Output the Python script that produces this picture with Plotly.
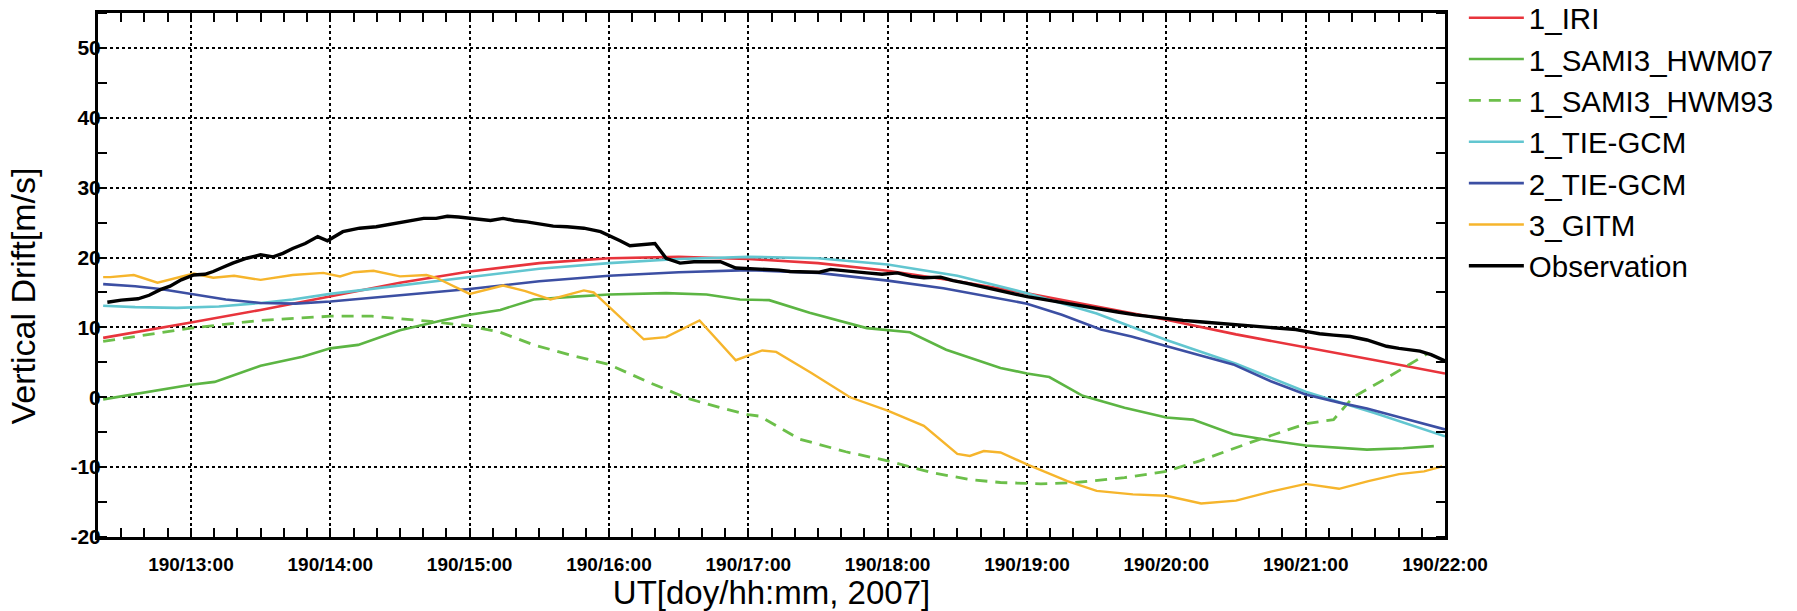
import plotly.graph_objects as go

# ---------------- data (hours UT, day 190, 2007) ----------------
tick_hours = [13, 14, 15, 16, 17, 18, 19, 20, 21, 22]
tick_labels = ["190/13:00", "190/14:00", "190/15:00", "190/16:00", "190/17:00",
               "190/18:00", "190/19:00", "190/20:00", "190/21:00", "190/22:00"]
y_ticks = [-20, -10, 0, 10, 20, 30, 40, 50]
y_labels = ["-20", "-10", "0", "10", "20", "30", "40", "50"]

iri_t = [12.37, 12.75, 13.0, 13.5, 14.0, 14.5, 15.0, 15.5, 16.0, 16.5, 17.0, 17.5,
         18.0, 18.5, 19.0, 19.5, 20.0, 20.5, 21.0, 21.5, 22.0]
iri_v = [8.5, 9.8, 10.7, 12.5, 14.5, 16.4, 18.0, 19.2, 19.9, 20.1, 19.8, 19.2,
         18.1, 16.6, 14.9, 13.0, 11.1, 9.0, 7.2, 5.3, 3.4]

hwm07_t = [12.37, 12.7, 13.0, 13.17, 13.5, 13.8, 14.0, 14.2, 14.5, 14.8, 15.0, 15.22,
           15.46, 15.75, 16.0, 16.41, 16.7, 16.94, 17.15, 17.44, 17.65, 17.85, 18.16,
           18.42, 18.81, 19.0, 19.16, 19.40, 19.7, 20.0, 20.19, 20.48, 20.75, 21.0,
           21.44, 21.7, 21.92]
hwm07_v = [-0.3, 0.8, 1.8, 2.2, 4.5, 5.8, 7.0, 7.5, 9.6, 11.0, 11.8, 12.5,
           14.0, 14.4, 14.7, 14.9, 14.7, 14.0, 13.9, 12.1, 11.0, 9.9, 9.3,
           6.8, 4.2, 3.4, 2.9, 0.2, -1.5, -2.9, -3.2, -5.3, -6.2, -6.9,
           -7.5, -7.3, -7.0]

hwm93_t = [12.37, 12.7, 13.0, 13.5, 14.0, 14.3, 14.7, 15.0, 15.22, 15.46, 15.75, 16.0,
           16.29, 16.57, 16.8, 17.0, 17.08, 17.37, 17.7, 18.0, 18.32, 18.6, 18.81,
           19.1, 19.35, 19.7, 20.0, 20.24, 20.6, 21.0, 21.2, 21.34, 21.56, 21.87]
hwm93_v = [8.0, 9.0, 9.9, 11.0, 11.6, 11.6, 10.9, 10.2, 9.3, 7.5, 5.9, 4.7,
           2.1, -0.2, -1.5, -2.5, -2.7, -6.0, -7.8, -9.1, -10.8, -11.8, -12.2,
           -12.4, -12.2, -11.5, -10.6, -9.1, -6.5, -3.8, -3.2, 0.0, 2.5, 6.2]

tie1_t = [12.37, 12.6, 12.9, 13.2, 13.5, 13.73, 14.0, 14.5, 15.0, 15.5, 16.0, 16.5,
          17.0, 17.5, 18.0, 18.5, 19.0, 19.5, 20.0, 20.5, 21.0, 21.5, 22.0]
tie1_v = [13.1, 12.9, 12.8, 13.0, 13.5, 14.0, 14.8, 16.0, 17.3, 18.4, 19.2, 19.8,
          20.1, 19.9, 19.0, 17.4, 14.9, 12.0, 8.2, 4.8, 0.8, -2.3, -5.6]

tie2_t = [12.37, 12.6, 12.78, 13.02, 13.25, 13.5, 13.75, 14.0, 14.5, 15.0, 15.5, 16.0,
          16.5, 17.0, 17.5, 17.8, 18.0, 18.4, 18.81, 19.0, 19.25, 19.53, 19.75, 20.0,
          20.25, 20.48, 20.75, 21.0, 21.25, 21.44, 21.7, 22.0]
tie2_v = [16.2, 15.9, 15.5, 14.7, 14.0, 13.5, 13.4, 13.7, 14.6, 15.5, 16.6, 17.4,
          17.9, 18.2, 17.8, 17.2, 16.7, 15.6, 14.1, 13.4, 11.8, 9.7, 8.7, 7.3,
          6.0, 4.7, 2.3, 0.4, -0.8, -1.6, -3.0, -4.6]

gitm_t = [12.37, 12.42, 12.59, 12.76, 13.02, 13.16, 13.31, 13.50, 13.73, 13.95, 14.07,
          14.17, 14.31, 14.50, 14.69, 14.76, 15.0, 15.24, 15.40, 15.58, 15.82, 15.89,
          16.25, 16.41, 16.65, 16.91, 17.1, 17.2, 17.45, 17.73, 18.0, 18.26, 18.5,
          18.59, 18.69, 18.81, 19.0, 19.29, 19.5, 19.76, 20.0, 20.25, 20.5, 20.75,
          21.0, 21.24, 21.45, 21.67, 21.85, 21.98]
gitm_v = [17.2, 17.2, 17.5, 16.4, 17.7, 17.1, 17.4, 16.8, 17.5, 17.8, 17.3,
          17.9, 18.1, 17.3, 17.5, 17.1, 14.8, 16.0, 15.2, 14.0, 15.3, 15.0,
          8.3, 8.6, 11.0, 5.3, 6.7, 6.5, 3.5, 0.0, -1.9, -4.1, -8.1,
          -8.4, -7.7, -7.9, -9.6, -12.0, -13.4, -13.9, -14.1, -15.2, -14.8, -13.5,
          -12.4, -13.1, -12.0, -11.0, -10.6, -9.9]

obs_t = [12.40, 12.50, 12.62, 12.70, 12.78, 12.85, 12.93, 13.02, 13.10, 13.16, 13.23,
         13.30, 13.40, 13.50, 13.59, 13.66, 13.73, 13.82, 13.91, 13.98, 14.09, 14.21,
         14.33, 14.45, 14.56, 14.67, 14.76, 14.84, 14.92, 15.00, 15.08, 15.15, 15.24,
         15.32, 15.41, 15.50, 15.60, 15.70, 15.82, 15.94, 16.01, 16.08, 16.15, 16.22,
         16.33, 16.41, 16.51, 16.61, 16.70, 16.80, 16.91, 17.02, 17.13, 17.22, 17.30,
         17.40, 17.51, 17.59, 17.72, 17.85, 17.96, 18.07, 18.17, 18.26, 18.38, 18.47,
         18.57, 18.69, 18.81, 18.90, 19.00, 19.15, 19.29, 19.41, 19.53, 19.65, 19.78,
         19.90, 20.00, 20.12, 20.24, 20.36, 20.48, 20.60, 20.72, 20.84, 20.93, 21.01,
         21.10, 21.20, 21.32, 21.44, 21.51, 21.58, 21.67, 21.75, 21.82, 21.90, 21.97,
         22.0]
obs_v = [13.6, 13.9, 14.1, 14.6, 15.4, 15.9, 16.8, 17.5, 17.6, 18.0, 18.6,
         19.2, 19.9, 20.4, 20.1, 20.6, 21.3, 22.0, 23.0, 22.4, 23.7, 24.2,
         24.4, 24.8, 25.2, 25.6, 25.6, 25.9, 25.8, 25.6, 25.5, 25.3, 25.6,
         25.3, 25.1, 24.8, 24.5, 24.4, 24.2, 23.7, 23.1, 22.4, 21.7, 21.8,
         22.0, 19.9, 19.2, 19.4, 19.4, 19.4, 18.5, 18.4, 18.3, 18.2, 18.0,
         17.9, 17.9, 18.3, 18.0, 17.8, 17.6, 17.8, 17.3, 17.1, 17.2, 16.7,
         16.3, 15.8, 15.2, 14.8, 14.4, 13.9, 13.4, 13.0, 12.6, 12.2, 11.8,
         11.5, 11.3, 11.0, 10.8, 10.6, 10.5, 10.3, 10.1, 9.9, 9.7, 9.4,
         9.1, 8.9, 8.7, 8.2, 7.7, 7.3, 7.0, 6.8, 6.6, 6.1, 5.4,
         5.2]

series = [
    ("1_IRI", iri_t, iri_v, "#e8343c", "solid", 2.6),
    ("1_SAMI3_HWM07", hwm07_t, hwm07_v, "#5cb543", "solid", 2.6),
    ("1_SAMI3_HWM93", hwm93_t, hwm93_v, "#6cbf4a", "12px,8px", 2.8),
    ("1_TIE-GCM", tie1_t, tie1_v, "#62c6d0", "solid", 2.6),
    ("2_TIE-GCM", tie2_t, tie2_v, "#3c4fa3", "solid", 2.6),
    ("3_GITM", gitm_t, gitm_v, "#f6b52c", "solid", 2.4),
    ("Observation", obs_t, obs_v, "#000000", "solid", 3.4),
]

fig = go.Figure()
for name, t, v, color, dash, w in series:
    fig.add_trace(go.Scatter(x=t, y=v, mode="lines", name=name,
                             line=dict(color=color, dash=dash, width=w)))

W, H = 1797, 611
L, R, T, B = 98, 352, 13, 74
FONT = "Liberation Sans, Arial, sans-serif"

fig.update_layout(
    width=W, height=H,
    margin=dict(l=L, r=R, t=T, b=B, autoexpand=False),
    paper_bgcolor="white", plot_bgcolor="white",
    font=dict(family=FONT, color="black"),
    showlegend=True,
    legend=dict(
        x=1.014, y=1.04, xanchor="left", yanchor="top",
        font=dict(size=29.5, family=FONT, color="black"),
        itemwidth=55, bgcolor="rgba(0,0,0,0)", borderwidth=0,
        tracegroupgap=0,
    ),
    annotations=[
        dict(text="Vertical Drift[m/s]", xref="paper", yref="paper",
             x=-0.056, y=0.46, xanchor="center", yanchor="middle",
             textangle=-90, showarrow=False,
             font=dict(size=34, family=FONT, color="black")),
    ],
)

fig.update_xaxes(
    range=[12.333, 22.0],
    tickmode="array", tickvals=tick_hours, ticktext=tick_labels,
    tickfont=dict(size=19, family=FONT, color="black", weight="bold"),
    ticks="inside", ticklen=9, tickwidth=2, tickcolor="black",
    ticklabelstandoff=8,
    minor=dict(dtick=1/6, tick0=12, ticks="inside", ticklen=9, tickwidth=2, tickcolor="black", showgrid=False),
    showline=True, linewidth=3, linecolor="black", mirror="allticks",
    showgrid=True, gridcolor="black", gridwidth=1.5, griddash="dot",
    zeroline=False,
    title=dict(text="UT[doy/hh:mm, 2007]", font=dict(size=33, color="black"), standoff=4),
)

fig.update_yaxes(
    range=[-20, 55],
    tickmode="array", tickvals=y_ticks, ticktext=y_labels,
    tickfont=dict(size=21, family=FONT, color="black", weight="bold"),
    ticks="outside", ticklen=0, tickwidth=2, tickcolor="black",
    ticklabelstandoff=-10,
    minor=dict(dtick=5, tick0=0, ticks="inside", ticklen=9, tickwidth=2, tickcolor="black", showgrid=False),
    showline=True, linewidth=3, linecolor="black", mirror="allticks",
    showgrid=True, gridcolor="black", gridwidth=1.5, griddash="dot",
    zeroline=False,
)

fig.write_html("out.html")
